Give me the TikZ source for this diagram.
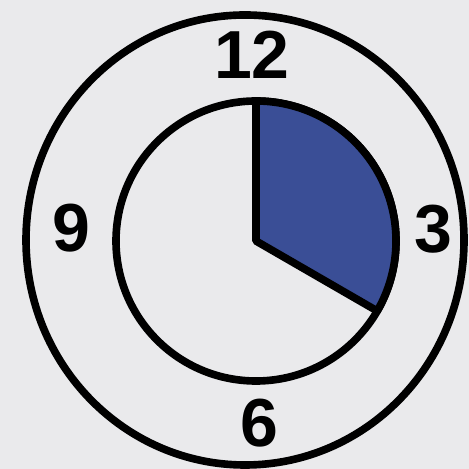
\documentclass[tikz,border=0pt]{standalone}
\usepackage{fontspec}
\setmainfont{Liberation Sans}
\usetikzlibrary{calc}
\definecolor{paper}{RGB}{234,234,236}
\definecolor{sectorblue}{RGB}{58,78,150}
\tikzset{rim/.style={line width=0.13cm,black},hour/.style={font=\bfseries\fontsize{33}{33}\selectfont,inner sep=0pt}}
\begin{document}
\begin{tikzpicture}[x=0.01706cm,y=0.01706cm]
\fill[paper] (0,0) rectangle (469,469);
\useasboundingbox (0,0) rectangle (469,469);
\coordinate (c) at (256,228);
\draw[rim] (245,229) ellipse (219 and 225);
\draw[rim] (c) circle (140);
\filldraw[rim,fill=sectorblue,line join=round] (c) -- ++(90:140) arc (90:-30:140) -- cycle;
\node[hour] (l12) at (252,414) {12};
\node[hour] (l3) at (433,240) {3};
\node[hour] (l6) at (259,46) {6};
\node[hour] (l9) at (71,241) {9};
\end{tikzpicture}
\end{document}
